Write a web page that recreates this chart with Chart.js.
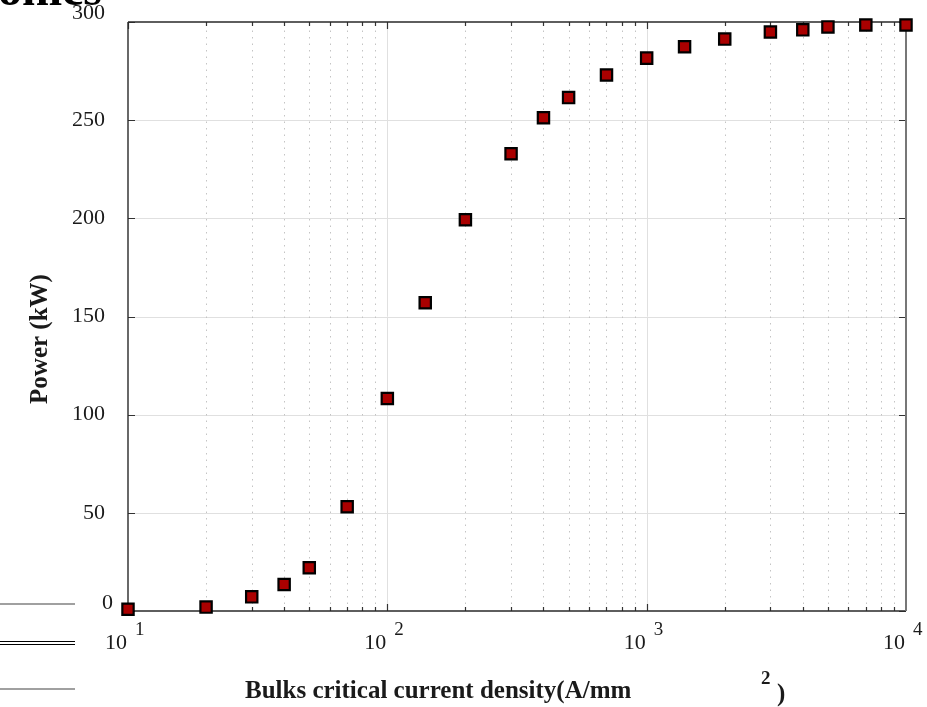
<!DOCTYPE html>
<html><head><meta charset="utf-8">
<script src="https://cdn.jsdelivr.net/npm/chart.js@4.4.1/dist/chart.umd.min.js"></script>
<style>html,body{margin:0;padding:0;background:#fff;overflow:hidden}#wrap{position:relative;width:927px;height:707px}canvas{display:block}</style>
</head><body><div id="wrap"><canvas id="c" width="927" height="707"></canvas></div>
<script>
const currentDensity = [10, 20, 30, 40, 50, 70, 100, 140, 200, 300, 400, 500, 700, 1000, 1400, 2000, 3000, 4000, 5000, 7000, 10000];
const powerKW = [0.9, 2.0, 7.2, 13.5, 22.0, 53.1, 108.2, 157.0, 199.3, 232.9, 251.2, 261.5, 273.0, 281.6, 287.4, 291.3, 294.9, 296.0, 297.5, 298.5, 298.5];
const yTicks = [0, 50, 100, 150, 200, 250, 300];
const xDecadeExponents = [1, 2, 3, 4];
const xMinorMultipliers = [2, 3, 4, 5, 6, 7, 8, 9];
const xTitle = 'Bulks critical current density(A/mm';
const xTitleSup = '2';
const xTitleClose = ')';
const yTitle = 'Power (kW)';
const topFragment = 'onics';

const SERIF = '"Liberation Serif", "DejaVu Serif", serif';

const points = currentDensity.map((x, i) => ({x: x, y: powerKW[i]}));

const decorPlugin = {
  id: 'decor',
  beforeDatasetsDraw(chart) {
    const ctx = chart.ctx;
    const xs = chart.scales.x, ys = chart.scales.y;
    const a = chart.chartArea;
    ctx.save();
    // horizontal grid
    ctx.strokeStyle = '#e0e0e0';
    ctx.lineWidth = 1;
    yTicks.forEach(v => {
      if (v === 0 || v === 300) return;
      const y = Math.round(ys.getPixelForValue(v)) + 0.5;
      ctx.beginPath(); ctx.moveTo(a.left, y); ctx.lineTo(a.right, y); ctx.stroke();
    });
    // vertical major grid
    xDecadeExponents.forEach(e => {
      const v = Math.pow(10, e);
      const x = Math.round(xs.getPixelForValue(v)) + 0.5;
      if (x <= a.left + 1 || x >= a.right - 1) return;
      ctx.beginPath(); ctx.moveTo(x, a.top); ctx.lineTo(x, a.bottom); ctx.stroke();
    });
    // vertical minor dotted grid
    ctx.strokeStyle = '#c4c4c4';
    ctx.setLineDash([1.5, 5]);
    xDecadeExponents.slice(0, -1).forEach(e => {
      xMinorMultipliers.forEach(m => {
        const x = Math.round(xs.getPixelForValue(m * Math.pow(10, e))) + 0.5;
        ctx.beginPath(); ctx.moveTo(x, a.top + 2); ctx.lineTo(x, a.bottom); ctx.stroke();
      });
    });
    ctx.setLineDash([]);
    // tick marks
    ctx.strokeStyle = '#333';
    ctx.lineWidth = 1.2;
    xDecadeExponents.slice(0, -1).forEach(e => {
      const v = Math.pow(10, e);
      const xm = Math.round(xs.getPixelForValue(v)) + 0.5;
      ctx.beginPath();
      ctx.moveTo(xm, a.bottom); ctx.lineTo(xm, a.bottom - 7);
      ctx.moveTo(xm, a.top); ctx.lineTo(xm, a.top + 7);
      ctx.stroke();
      xMinorMultipliers.forEach(m => {
        const x = Math.round(xs.getPixelForValue(m * v)) + 0.5;
        ctx.beginPath();
        ctx.moveTo(x, a.bottom); ctx.lineTo(x, a.bottom - 4);
        ctx.moveTo(x, a.top); ctx.lineTo(x, a.top + 4);
        ctx.stroke();
      });
    });
    yTicks.forEach(v => {
      const y = Math.round(ys.getPixelForValue(v)) + 0.5;
      ctx.beginPath();
      ctx.moveTo(a.left, y); ctx.lineTo(a.left + 7, y);
      ctx.moveTo(a.right, y); ctx.lineTo(a.right - 7, y);
      ctx.stroke();
    });
    // axes box
    ctx.lineWidth = 1.4;
    ctx.strokeStyle = '#2a2a2a';
    ctx.beginPath();
    ctx.moveTo(a.left, a.top); ctx.lineTo(a.right, a.top);
    ctx.moveTo(a.left, a.top); ctx.lineTo(a.left, a.bottom);
    ctx.moveTo(a.left, a.bottom); ctx.lineTo(a.right, a.bottom);
    ctx.stroke();
    ctx.strokeStyle = '#777';
    ctx.lineWidth = 2;
    ctx.beginPath(); ctx.moveTo(a.right, a.top); ctx.lineTo(a.right, a.bottom); ctx.stroke();
    ctx.restore();
  },
  afterDraw(chart) {
    const ctx = chart.ctx;
    const xs = chart.scales.x, ys = chart.scales.y;
    const a = chart.chartArea;
    ctx.save();
    ctx.fillStyle = '#1a1a1a';
    // y tick labels
    ctx.font = '22px ' + SERIF;
    ctx.textBaseline = 'middle';
    ctx.textAlign = 'right';
    yTicks.forEach(v => {
      let y = ys.getPixelForValue(v);
      let x = a.left - 23;
      if (v === 300) y = a.top - 9;
      if (v === 0) { y = a.bottom - 8; x = a.left - 15; }
      ctx.fillText(String(v), x, y);
    });
    // x tick labels (10^n)
    xDecadeExponents.forEach(e => {
      const x = xs.getPixelForValue(Math.pow(10, e));
      ctx.font = '22px ' + SERIF;
      ctx.textAlign = 'right';
      ctx.fillText('10', x - 1, a.bottom + 32);
      ctx.font = '19px ' + SERIF;
      ctx.textAlign = 'left';
      ctx.fillText(String(e), x + 7, a.bottom + 19);
    });
    // x title
    ctx.textBaseline = 'alphabetic';
    ctx.textAlign = 'left';
    ctx.font = 'bold 25px ' + SERIF;
    ctx.fillText(xTitle, 245, 698);
    ctx.font = 'bold 19px ' + SERIF;
    ctx.fillText(xTitleSup, 761, 684);
    ctx.font = 'bold 25px ' + SERIF;
    ctx.fillText(xTitleClose, 777, 701);
    // y title
    ctx.save();
    ctx.translate(47, 339);
    ctx.rotate(-Math.PI / 2);
    ctx.textAlign = 'center';
    ctx.font = 'bold 25px ' + SERIF;
    ctx.fillText(yTitle, 0, 0);
    ctx.restore();
    // clipped title fragment at top-left
    ctx.fillStyle = '#000';
    ctx.font = 'bold 48px ' + SERIF;
    ctx.fillText(topFragment, -2, 5);
    // stray legend-like lines at left
    ctx.lineWidth = 2;
    ctx.strokeStyle = '#a0a0a0';
    ctx.beginPath(); ctx.moveTo(0, 604); ctx.lineTo(75, 604); ctx.stroke();
    ctx.beginPath(); ctx.moveTo(0, 689); ctx.lineTo(75, 689); ctx.stroke();
    ctx.lineWidth = 1;
    ctx.strokeStyle = '#000';
    ctx.beginPath(); ctx.moveTo(0, 641.5); ctx.lineTo(75, 641.5); ctx.moveTo(0, 644.5); ctx.lineTo(75, 644.5); ctx.stroke();
    ctx.restore();
  }
};

new Chart(document.getElementById('c'), {
  type: 'scatter',
  data: {
    datasets: [{
      data: points,
      pointStyle: 'rect',
      pointRadius: 8,
      pointHoverRadius: 8,
      pointBackgroundColor: '#aa0000',
      pointBorderColor: '#000',
      pointBorderWidth: 2.2,
      showLine: false,
      clip: false
    }]
  },
  options: {
    responsive: false,
    animation: false,
    devicePixelRatio: 1,
    events: [],
    layout: {padding: {left: 128, top: 22, right: 21, bottom: 96}},
    plugins: {legend: {display: false}, tooltip: {enabled: false}},
    scales: {
      x: {
        type: 'logarithmic', min: 10, max: 10000,
        grid: {display: false, drawTicks: false},
        border: {display: false},
        ticks: {display: false}
      },
      y: {
        type: 'linear', min: 0, max: 300,
        grid: {display: false, drawTicks: false},
        border: {display: false},
        ticks: {display: false}
      }
    }
  },
  plugins: [decorPlugin]
});
</script>
</body></html>
